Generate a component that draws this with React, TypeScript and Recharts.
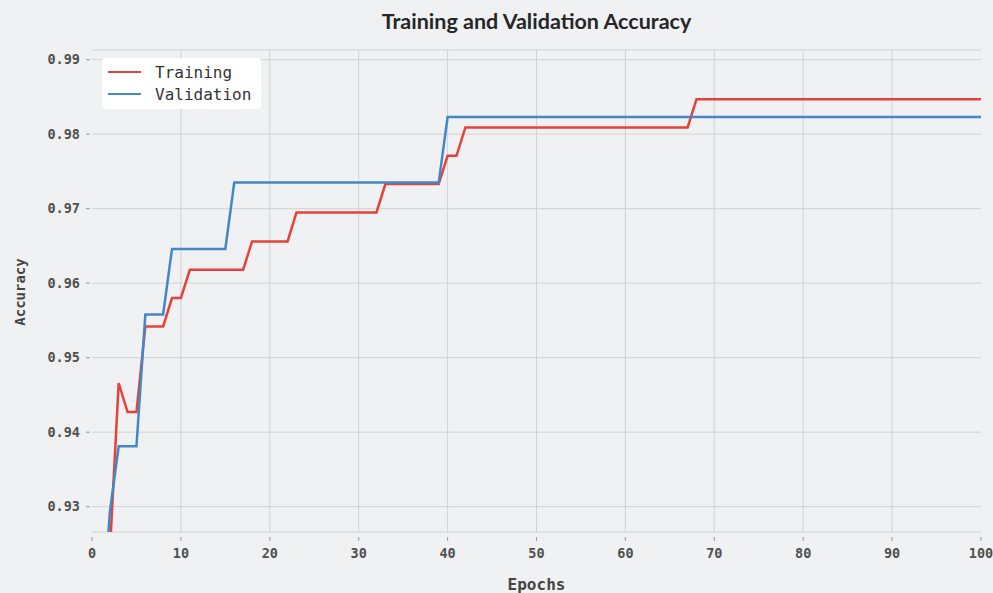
import React from "react";
import {
  LineChart,
  Line,
  XAxis,
  YAxis,
  CartesianGrid,
  Legend,
} from "recharts";

// epochs 1..100
const epochs = [
  1, 2, 3, 4, 5, 6, 7, 8, 9, 10, 11, 12, 13, 14, 15, 16, 17, 18, 19, 20,
  21, 22, 23, 24, 25, 26, 27, 28, 29, 30, 31, 32, 33, 34, 35, 36, 37, 38, 39, 40,
  41, 42, 43, 44, 45, 46, 47, 48, 49, 50, 51, 52, 53, 54, 55, 56, 57, 58, 59, 60,
  61, 62, 63, 64, 65, 66, 67, 68, 69, 70, 71, 72, 73, 74, 75, 76, 77, 78, 79, 80,
  81, 82, 83, 84, 85, 86, 87, 88, 89, 90, 91, 92, 93, 94, 95, 96, 97, 98, 99, 100,
];

const trainAcc = [
  0.9084, 0.9237, 0.9466, 0.9427, 0.9427, 0.9542, 0.9542, 0.9542, 0.958, 0.958,
  0.9618, 0.9618, 0.9618, 0.9618, 0.9618, 0.9618, 0.9618, 0.9656, 0.9656, 0.9656,
  0.9656, 0.9656, 0.9695, 0.9695, 0.9695, 0.9695, 0.9695, 0.9695, 0.9695, 0.9695,
  0.9695, 0.9695, 0.9733, 0.9733, 0.9733, 0.9733, 0.9733, 0.9733, 0.9733, 0.9771,
  0.9771, 0.9809, 0.9809, 0.9809, 0.9809, 0.9809, 0.9809, 0.9809, 0.9809, 0.9809,
  0.9809, 0.9809, 0.9809, 0.9809, 0.9809, 0.9809, 0.9809, 0.9809, 0.9809, 0.9809,
  0.9809, 0.9809, 0.9809, 0.9809, 0.9809, 0.9809, 0.9809, 0.9847, 0.9847, 0.9847,
  0.9847, 0.9847, 0.9847, 0.9847, 0.9847, 0.9847, 0.9847, 0.9847, 0.9847, 0.9847,
  0.9847, 0.9847, 0.9847, 0.9847, 0.9847, 0.9847, 0.9847, 0.9847, 0.9847, 0.9847,
  0.9847, 0.9847, 0.9847, 0.9847, 0.9847, 0.9847, 0.9847, 0.9847, 0.9847, 0.9847,
];

const valAcc = [
  0.9115, 0.9292, 0.9381, 0.9381, 0.9381, 0.9558, 0.9558, 0.9558, 0.9646, 0.9646,
  0.9646, 0.9646, 0.9646, 0.9646, 0.9646, 0.9735, 0.9735, 0.9735, 0.9735, 0.9735,
  0.9735, 0.9735, 0.9735, 0.9735, 0.9735, 0.9735, 0.9735, 0.9735, 0.9735, 0.9735,
  0.9735, 0.9735, 0.9735, 0.9735, 0.9735, 0.9735, 0.9735, 0.9735, 0.9735, 0.9823,
  0.9823, 0.9823, 0.9823, 0.9823, 0.9823, 0.9823, 0.9823, 0.9823, 0.9823, 0.9823,
  0.9823, 0.9823, 0.9823, 0.9823, 0.9823, 0.9823, 0.9823, 0.9823, 0.9823, 0.9823,
  0.9823, 0.9823, 0.9823, 0.9823, 0.9823, 0.9823, 0.9823, 0.9823, 0.9823, 0.9823,
  0.9823, 0.9823, 0.9823, 0.9823, 0.9823, 0.9823, 0.9823, 0.9823, 0.9823, 0.9823,
  0.9823, 0.9823, 0.9823, 0.9823, 0.9823, 0.9823, 0.9823, 0.9823, 0.9823, 0.9823,
  0.9823, 0.9823, 0.9823, 0.9823, 0.9823, 0.9823, 0.9823, 0.9823, 0.9823, 0.9823,
];

const xTicks = [0, 10, 20, 30, 40, 50, 60, 70, 80, 90, 100];
const yTicks = [0.93, 0.94, 0.95, 0.96, 0.97, 0.98, 0.99];
const gridX = [10, 20, 30, 40, 50, 60, 70, 80, 90];

const data = epochs.map((e, i) => ({
  epoch: e,
  train: trainAcc[i],
  val: valAcc[i],
}));

const COLORS = {
  train: "#e8403a",
  val: "#4487c7",
  bg: "#eff1f3",
  grid: "#d2d2d2",
  tick: "#505050",
};

const MONO = "'DejaVu Sans Mono', monospace";

const XTick = (props: any) => {
  const { x, y, payload } = props;
  return (
    <g>
      <line x1={x} x2={x} y1={y + 5} y2={y + 9} stroke="#999" strokeWidth={1} />
      <text
        x={x}
        y={y + 26}
        textAnchor="middle"
        fontFamily={MONO}
        fontWeight="bold"
        fontSize={13.5}
        fill={COLORS.tick}
      >
        {payload.value}
      </text>
    </g>
  );
};

const YTick = (props: any) => {
  const { x, y, payload } = props;
  return (
    <g>
      <line x1={x - 6} x2={x - 2} y1={y} y2={y} stroke="#999" strokeWidth={1} />
      <text
        x={x - 12}
        y={y + 4.5}
        textAnchor="end"
        fontFamily={MONO}
        fontWeight="bold"
        fontSize={13.5}
        fill={COLORS.tick}
      >
        {Number(payload.value).toFixed(2)}
      </text>
    </g>
  );
};

const LegendBox = () => (
  <div
    style={{
      background: "#fff",
      borderRadius: 4,
      width: 159,
      height: 51,
      boxSizing: "border-box",
      padding: "3px 0 0 6px",
      fontFamily: MONO,
      fontSize: 16,
      color: "#333",
    }}
  >
    {[
      { name: "Training", color: COLORS.train },
      { name: "Validation", color: COLORS.val },
    ].map((it) => (
      <div key={it.name} style={{ display: "flex", alignItems: "center", height: 22 }}>
        <span
          style={{
            display: "inline-block",
            width: 33,
            height: 2.5,
            background: it.color,
            marginRight: 14,
          }}
        />
        {it.name}
      </div>
    ))}
  </div>
);

export default function App() {
  return (
    <div
      style={{
        position: "fixed",
        top: 0,
        left: 0,
        width: 993,
        height: 593,
        background: COLORS.bg,
        overflow: "hidden",
      }}
    >
      <div
        style={{
          position: "absolute",
          top: 11,
          left: 92,
          width: 889,
          textAlign: "center",
          fontFamily: "Lato, sans-serif",
          fontWeight: "bold",
          fontSize: 21.5,
          lineHeight: "21px",
          color: "#262626",
        }}
      >
        Training and Validation Accuracy
      </div>
      <div
        style={{
          position: "absolute",
          top: 577,
          left: 92,
          width: 889,
          textAlign: "center",
          fontFamily: MONO,
          fontWeight: "bold",
          fontSize: 16,
          lineHeight: "16px",
          color: "#444",
        }}
      >
        Epochs
      </div>
      <div
        style={{
          position: "absolute",
          top: 292,
          left: 20,
          transform: "translate(-50%, -50%) rotate(-90deg)",
          fontFamily: MONO,
          fontWeight: "bold",
          fontSize: 14,
          lineHeight: "14px",
          color: "#444",
          whiteSpace: "nowrap",
        }}
      >
        Accuracy
      </div>
      <LineChart
        width={993}
        height={593}
        data={data}
        margin={{ top: 50, right: 12, bottom: 0, left: 0 }}
      >
        <CartesianGrid
          stroke={COLORS.grid}
          strokeWidth={1}
          horizontal={true}
          vertical={true}
          verticalCoordinatesGenerator={({ offset }: any) =>
            gridX.map((v) => offset.left + (v / 100) * offset.width)
          }
        />
        <XAxis
          dataKey="epoch"
          type="number"
          domain={[0, 100]}
          ticks={xTicks}
          interval={0}
          axisLine={false}
          tickLine={false}
          tickSize={0}
          tickMargin={0}
          height={61}
          tick={<XTick />}
        />
        <YAxis
          type="number"
          domain={[0.9266, 0.9913]}
          allowDataOverflow
          ticks={yTicks}
          interval={0}
          axisLine={false}
          tickLine={false}
          tickSize={0}
          tickMargin={0}
          width={92}
          tick={<YTick />}
        />
        <Legend
          layout="horizontal"
          verticalAlign="middle"
          align="center"
          content={<LegendBox />}
          wrapperStyle={{ position: "absolute", top: 58, left: 102, width: "auto" }}
        />
        <Line
          type="linear"
          dataKey="train"
          name="Training"
          stroke={COLORS.train}
          strokeWidth={2.5}
          dot={false}
          activeDot={false}
          isAnimationActive={false}
        />
        <Line
          type="linear"
          dataKey="val"
          name="Validation"
          stroke={COLORS.val}
          strokeWidth={2.5}
          dot={false}
          activeDot={false}
          isAnimationActive={false}
        />
      </LineChart>
    </div>
  );
}
